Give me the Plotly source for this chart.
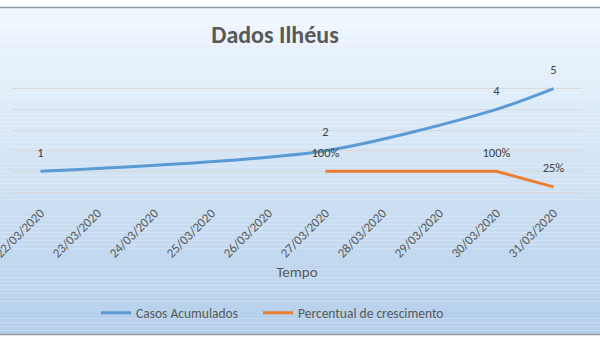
import plotly.graph_objects as go

# ---- data ----
datas = ['22/03/2020', '23/03/2020', '24/03/2020', '25/03/2020', '26/03/2020',
         '27/03/2020', '28/03/2020', '29/03/2020', '30/03/2020', '31/03/2020']
casos_acumulados = [1, None, None, None, None, 2, None, None, 4, 5]
percentual_crescimento = [None, None, None, None, None, 1.0, None, None, 1.0, 0.25]

# ---- layout geometry (pixels) ----
W, H = 600, 340
L, R = 12, 582          # plot area left/right
T, B = 67.5, 191.75     # plot area top/bottom
FONT = "Carlito, Lato, sans-serif"


def py2paper(py):
    return (B - py) / (B - T)


def px2paper(px):
    return (px - L) / (R - L)


fig = go.Figure()

fig.add_trace(go.Scatter(
    x=datas, y=casos_acumulados, name='Casos Acumulados', legend='legend',
    mode='lines+markers+text', connectgaps=True, cliponaxis=False,
    line=dict(color='#5b9bd5', width=3, shape='spline', smoothing=0.8),
    marker=dict(size=17, color='rgba(0,0,0,0)'),
    texttemplate='%{y}', textposition='top center',
    textfont=dict(family=FONT, size=12.5, color='#404040'),
))
fig.add_trace(go.Scatter(
    x=datas, y=percentual_crescimento, name='Percentual de crescimento', legend='legend2',
    mode='lines+markers+text', connectgaps=True, cliponaxis=False,
    line=dict(color='#ed7d31', width=3),
    marker=dict(size=17, color='rgba(0,0,0,0)'),
    texttemplate='%{y:.0%}', textposition='top center',
    textfont=dict(family=FONT, size=12.5, color='#404040'),
))

# gradient background (stacked bands)
shapes = []
top_c = (240, 247, 254)
bot_c = (180, 207, 235)
y_top, y_bot = 7.5, 334.5
N = 80
for i in range(N):
    a = y_top + (y_bot - y_top) * i / N
    b = y_top + (y_bot - y_top) * (i + 1) / N
    t = (i + 0.5) / N
    c = tuple(round(top_c[k] + (bot_c[k] - top_c[k]) * t) for k in range(3))
    shapes.append(dict(type='rect', xref='paper', yref='paper',
                       x0=px2paper(0), x1=px2paper(W),
                       y0=py2paper(b), y1=py2paper(a),
                       line=dict(width=0), fillcolor='rgb(%d,%d,%d)' % c,
                       layer='below'))
for yy in (7, 334.5):
    shapes.append(dict(type='line', xref='paper', yref='paper',
                       x0=px2paper(0), x1=px2paper(W),
                       y0=py2paper(yy), y1=py2paper(yy),
                       line=dict(color='#8e9aa3', width=1.5), layer='below'))

legend_style = dict(orientation='h', xref='paper', yref='paper',
                    xanchor='left', yanchor='middle', y=py2paper(313),
                    bgcolor='rgba(0,0,0,0)',
                    font=dict(family=FONT, size=13.5, color='#595959'),
                    itemwidth=30)

fig.update_layout(
    width=W, height=H,
    margin=dict(l=L, r=W - R, t=T, b=H - B, autoexpand=False),
    paper_bgcolor='white', plot_bgcolor='rgba(0,0,0,0)',
    font=dict(family=FONT, color='#595959'),
    title=dict(text='<b>Dados Ilhéus</b>', xref='container', yref='container',
               x=275 / W, y=1 - 35 / H, xanchor='center', yanchor='middle',
               font=dict(family=FONT, size=24, color='#595959')),
    showlegend=True,
    legend=dict(legend_style, x=px2paper(96)),
    legend2=dict(legend_style, x=px2paper(258)),
    shapes=shapes,
    xaxis=dict(type='category', range=[-0.5, 9.5], tickangle=-45,
               showgrid=False, showline=False, ticks='', ticklabelstandoff=10,
               tickfont=dict(family=FONT, size=13, color='#595959'),
               title=dict(text='Tempo', standoff=6,
                          font=dict(family=FONT, size=15, color='#595959')),
               automargin=False),
    yaxis=dict(range=[0, 6], dtick=1, showticklabels=False, showgrid=True,
               gridcolor='#d9d9d9', gridwidth=1, zeroline=True,
               zerolinecolor='#d9d9d9', zerolinewidth=1, automargin=False),
)

fig.write_html("out.html")
